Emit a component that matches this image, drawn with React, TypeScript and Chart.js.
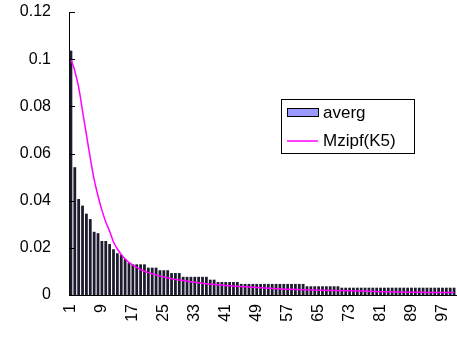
import React, { useEffect, useRef } from "react";
import { Chart, registerables } from "chart.js";

Chart.register(...registerables);

const categories: string[] = Array.from({ length: 100 }, (_, i) => String(i + 1));

const avergValues: number[] = [
  0.1036, 0.0542, 0.0407, 0.0379, 0.0345, 0.0322, 0.0268, 0.0262, 0.0229, 0.0229,
  0.0216, 0.0194, 0.0177, 0.0170, 0.0153, 0.0136, 0.0130, 0.0130, 0.0130, 0.0130,
  0.0116, 0.0116, 0.0116, 0.0105, 0.0105, 0.0105, 0.0093, 0.0093, 0.0093, 0.0077,
  0.0077, 0.0077, 0.0077, 0.0077, 0.0077, 0.0077, 0.0065, 0.0065, 0.0055, 0.0055,
  0.0055, 0.0055, 0.0055, 0.0055, 0.0047, 0.0047, 0.0047, 0.0047, 0.0047, 0.0047,
  0.0047, 0.0047, 0.0047, 0.0047, 0.0047, 0.0047, 0.0047, 0.0047, 0.0047, 0.0047,
  0.0047, 0.0037, 0.0037, 0.0037, 0.0037, 0.0037, 0.0037, 0.0037, 0.0037, 0.0037,
  0.0031, 0.0031, 0.0031, 0.0031, 0.0031, 0.0031, 0.0031, 0.0031, 0.0031, 0.0031,
  0.0031, 0.0031, 0.0031, 0.0031, 0.0031, 0.0031, 0.0031, 0.0031, 0.0031, 0.0031,
  0.0031, 0.0031, 0.0031, 0.0031, 0.0031, 0.0031, 0.0031, 0.0031, 0.0031, 0.0031,
];

const mzipfValues: number[] = [
  0.1000, 0.0950, 0.0880, 0.0780, 0.0680, 0.0580, 0.0490, 0.0420, 0.0360, 0.0310,
  0.0270, 0.0225, 0.0195, 0.0172, 0.0153, 0.0138, 0.0127, 0.0117, 0.0108, 0.0101,
  0.0095, 0.0090, 0.0085, 0.0080, 0.0076, 0.0073, 0.0069, 0.0066, 0.0064, 0.0061,
  0.0059, 0.0056, 0.0054, 0.0052, 0.0050, 0.0048, 0.0046, 0.0045, 0.0043, 0.0042,
  0.0040, 0.0039, 0.0038, 0.0037, 0.0036, 0.0035, 0.0034, 0.0033, 0.0032, 0.0031,
  0.0030, 0.0029, 0.0028, 0.0027, 0.0026, 0.0025, 0.0024, 0.0024, 0.0023, 0.0023,
  0.0022, 0.0022, 0.0021, 0.0021, 0.0020, 0.0020, 0.0020, 0.0019, 0.0019, 0.0019,
  0.0018, 0.0018, 0.0018, 0.0017, 0.0017, 0.0017, 0.0016, 0.0016, 0.0015, 0.0015,
  0.0014, 0.0014, 0.0014, 0.0013, 0.0013, 0.0013, 0.0013, 0.0012, 0.0012, 0.0012,
  0.0012, 0.0012, 0.0011, 0.0011, 0.0011, 0.0011, 0.0011, 0.0011, 0.0011, 0.0011,
];

const yTicks: number[] = [0, 0.02, 0.04, 0.06, 0.08, 0.1, 0.12];
const seriesNames: string[] = ["averg", "Mzipf(K5)"];

const FONT = "'Liberation Sans', Arial, sans-serif";

const innerTicksPlugin = {
  id: "innerTicks",
  afterDraw(chart: any) {
    const { ctx, chartArea, scales } = chart;
    const y = scales.y;
    ctx.save();
    ctx.strokeStyle = "#000";
    ctx.lineWidth = 1;
    yTicks.forEach((v) => {
      const py = Math.round(y.getPixelForValue(v)) + 0.5;
      ctx.beginPath();
      ctx.moveTo(chartArea.left, py);
      ctx.lineTo(chartArea.left + 6, py);
      ctx.stroke();
    });
    ctx.restore();
  },
};

const boxLegendPlugin = {
  id: "boxLegend",
  afterDraw(chart: any) {
    const { ctx } = chart;
    const ds = chart.data.datasets;
    ctx.save();
    ctx.fillStyle = "#fff";
    ctx.fillRect(281, 99, 133, 54);
    ctx.strokeStyle = "#000";
    ctx.lineWidth = 1;
    ctx.strokeRect(281.5, 99.5, 133, 54);
    ctx.fillStyle = ds[0].legendColor;
    ctx.fillRect(287, 108, 31, 8);
    ctx.strokeRect(287.5, 108.5, 31, 8);
    ctx.strokeStyle = ds[1].borderColor;
    ctx.lineWidth = 1.5;
    ctx.beginPath();
    ctx.moveTo(287, 141);
    ctx.lineTo(318, 141);
    ctx.stroke();
    ctx.fillStyle = "#000";
    ctx.font = `17px ${FONT}`;
    ctx.textBaseline = "middle";
    ctx.textAlign = "left";
    ctx.fillText(ds[0].label, 323, 113);
    ctx.fillText(ds[1].label, 323, 141);
    ctx.restore();
  },
};

export default function App() {
  const canvasRef = useRef<HTMLCanvasElement | null>(null);

  useEffect(() => {
    if (!canvasRef.current) return;
    const chart = new Chart(canvasRef.current, {
      type: "bar",
      data: {
        labels: categories,
        datasets: [
          {
            type: "bar",
            label: seriesNames[0],
            data: avergValues,
            backgroundColor: "#1c1c2e",
            legendColor: "#9999FF",
            borderColor: "#000",
            borderWidth: 0,
            barPercentage: 0.72,
            categoryPercentage: 1,
            order: 2,
          } as any,
          {
            type: "line",
            label: seriesNames[1],
            data: mzipfValues,
            borderColor: "#FF00FF",
            borderWidth: 1.5,
            pointRadius: 0,
            tension: 0.3,
            fill: false,
            order: 1,
          } as any,
        ],
      },
      options: {
        responsive: false,
        animation: false,
        layout: { padding: { top: 12, right: 1, left: 0, bottom: 0 } },
        plugins: {
          legend: { display: false },
          tooltip: { enabled: false },
        },
        scales: {
          x: {
            type: "category",
            grid: { display: false, drawTicks: false },
            border: { display: true, color: "#000", width: 1 },
            ticks: {
              autoSkip: false,
              maxRotation: 90,
              minRotation: 90,
              padding: 9,
              color: "#000",
              font: { family: FONT, size: 16 },
              callback: (_v: any, idx: number) => (idx % 8 === 0 ? categories[idx] : ""),
            },
            afterFit: (s: any) => {
              s.height = 44;
              s.paddingLeft = 0;
              s.paddingRight = 0;
            },
          },
          y: {
            min: 0,
            max: 0.12,
            grid: { display: false, drawTicks: false },
            border: { display: true, color: "#000", width: 1 },
            ticks: {
              stepSize: 0.02,
              padding: 18,
              color: "#000",
              font: { family: FONT, size: 16 },
              callback: (v: any) => String(Number(Number(v).toFixed(2))),
            },
            afterFit: (s: any) => {
              s.width = 69;
              s.paddingTop = 0;
              s.paddingBottom = 0;
            },
          },
        },
      },
      plugins: [innerTicksPlugin, boxLegendPlugin],
    });
    return () => chart.destroy();
  }, []);

  return (
    <div style={{ position: "absolute", left: 0, top: 0, width: 457, height: 339, background: "#fff" }}>
      <canvas ref={canvasRef} width={457} height={339} />
    </div>
  );
}
